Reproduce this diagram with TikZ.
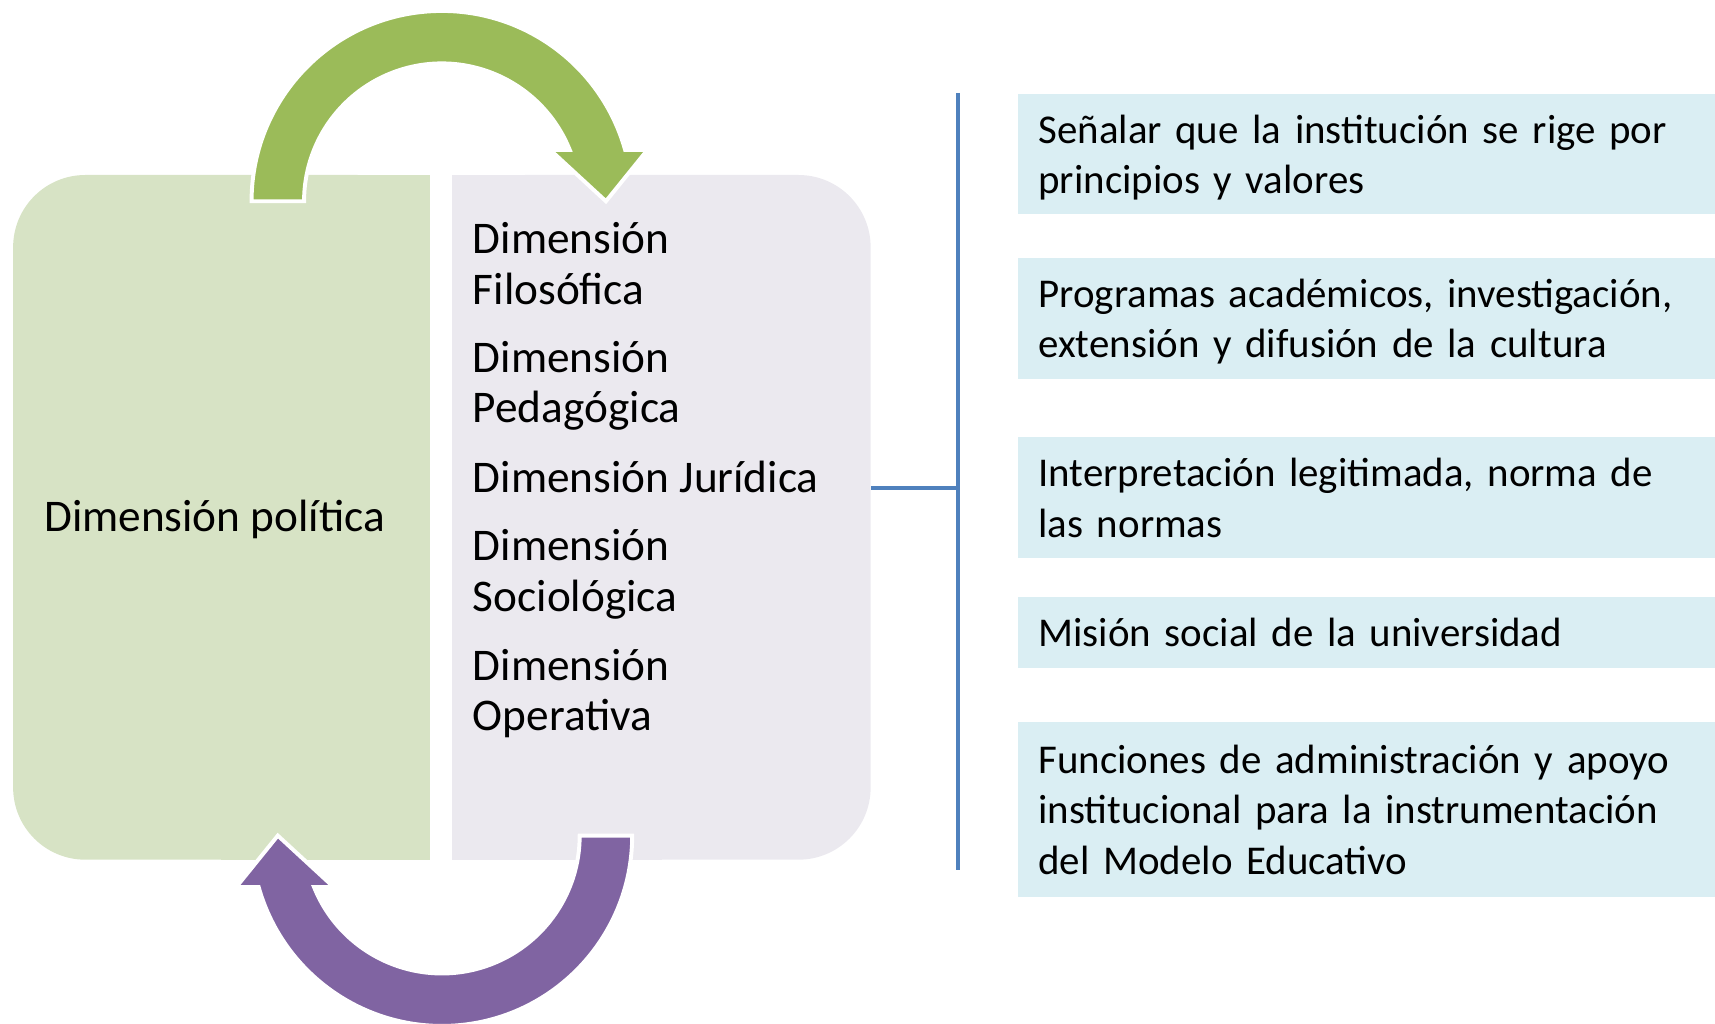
\documentclass[tikz,border=0pt]{standalone}
\usepackage{fontspec}
\setmainfont{Carlito}
\usetikzlibrary{positioning}

\definecolor{polfill}{HTML}{D7E3C5}
\definecolor{dimfill}{HTML}{EBE9EF}
\definecolor{itemfill}{HTML}{DAEEF3}
\definecolor{arrowgreen}{HTML}{9BBB59}
\definecolor{arrowpurple}{HTML}{8064A2}
\definecolor{linkblue}{HTML}{4F81BD}

\newcommand{\itemstrut}{\rule[-4.9pt]{0pt}{23pt}}

\tikzset{
  polbox/.style={fill=polfill, rounded corners=33pt, minimum width=190.5pt, minimum height=313pt, inner sep=0pt},
  dimbox/.style={fill=dimfill, rounded corners=33pt, minimum width=191pt, minimum height=313pt, inner sep=0pt},
  dimtext/.style={anchor=west, align=left, inner sep=0pt, font=\fontsize{20.7}{23}\selectfont},
  itembox/.style={fill=itemfill, anchor=west, text width=330pt, inner xsep=9.5pt, inner ysep=0pt, align=left,
    font=\fontsize{18.7}{23}\selectfont, execute at begin node=\itemstrut, execute at end node=\itemstrut},
  link/.style={linkblue, line width=2pt},
  bigarrow/.style={draw=white, line width=1.8pt}
}

\begin{document}
\begin{tikzpicture}[x=0.5pt,y=0.5pt]
   \useasboundingbox (0,0) rectangle (1568,-936);
   % left block and dimensions block
   \node[polbox] (politica) at (202.5,-473) {};
   \fill[polfill] (politica.north) rectangle (politica.south east);
   \node[dimbox] (dims) at (605,-473) {};
   \fill[dimfill] (dims.north west) rectangle (dims.south);
   \node[dimtext] (poltext) at (40,-475) {Dimensión política};
   \node[dimtext] (filosofica) at (432,-241) {Dimensión\\Filosófica};
   \node[dimtext] (pedagogica) at (432,-353) {Dimensión\\Pedagógica};
   \node[dimtext] (juridica) at (432,-436) {Dimensión Jurídica};
   \node[dimtext] (sociologica) at (432,-525) {Dimensión\\Sociológica};
   \node[dimtext] (operativa) at (432,-634) {Dimensión\\Operativa};

   % cycle arrows
   \filldraw[bigarrow, fill=arrowgreen] (230,-184) arc[start angle=180, end angle=15.67, radius=87pt]
      -- (592,-137) -- (554,-184) -- (503,-137) -- (520.9,-137)
      arc[start angle=21.9, end angle=180, radius=63pt] -- cycle;
   \filldraw[bigarrow, fill=arrowpurple] (578,-764) arc[start angle=0, end angle=-164.33, radius=87pt]
      -- (216,-811) -- (254,-764) -- (305,-811) -- (287.1,-811)
      arc[start angle=-158.1, end angle=0, radius=63pt] -- cycle;

   % items
   \node[itembox, minimum height=55pt] (principios) at (930,-141)
      {Señalar que la institución se rige por\\principios y valores};
   \node[itembox, minimum height=55.5pt] (programas) at (930,-291)
      {Programas académicos, investigación,\\extensión y difusión de la cultura};
   \node[itembox, minimum height=55.5pt] (interpretacion) at (930,-455)
      {Interpretación legitimada, norma de\\las normas};
   \node[itembox, minimum height=32.5pt] (mision) at (930,-578)
      {Misión social de la universidad};
   \node[itembox, minimum height=80pt] (funciones) at (930,-740)
      {Funciones de administración y apoyo\\institucional para la instrumentación\\del Modelo Educativo};

   % bracket
   \coordinate (brtop) at (876,-85);
   \coordinate (brbot) at (876,-795);
   \coordinate (branch) at (876,-446);
   \draw[link] (dims.east |- branch) -- (branch);
   \draw[link] (brtop) -- (brbot);
\end{tikzpicture}
\end{document}
